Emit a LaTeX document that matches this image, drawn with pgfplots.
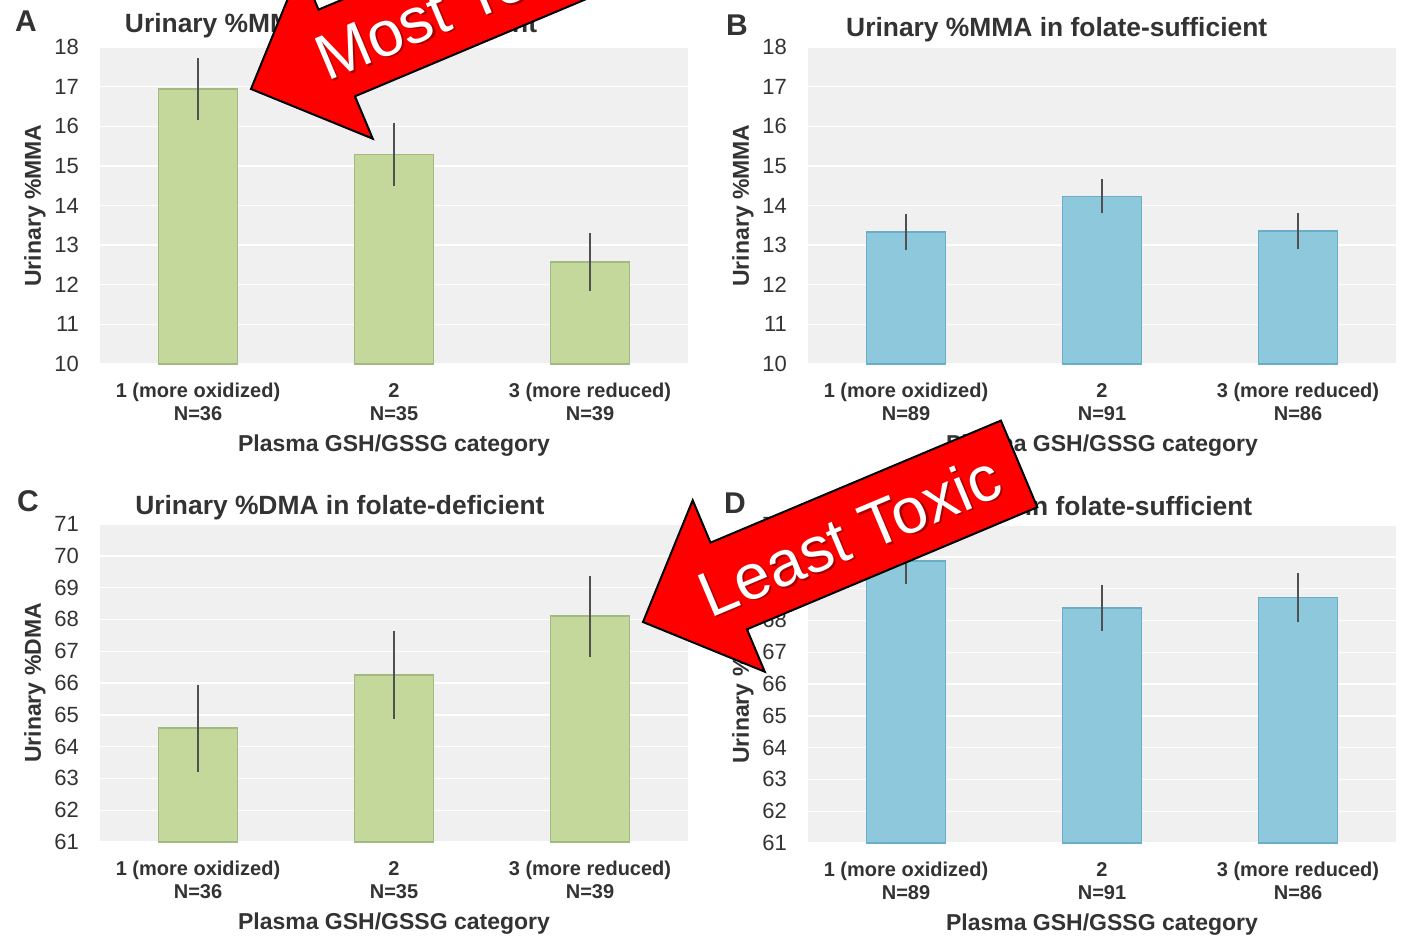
\documentclass[border=0pt]{standalone}
\usepackage{pgfplots}
\pgfplotsset{compat=1.18}
\usepackage{fontspec}
\setmainfont{Liberation Sans}
\definecolor{bggray}{HTML}{F0F0F0}
\definecolor{gfill}{HTML}{C5D89B}
\definecolor{gedge}{HTML}{A3B982}
\definecolor{bfill}{HTML}{8DC8DC}
\definecolor{bedge}{HTML}{6AAEC6}
\definecolor{errc}{HTML}{505050}
\definecolor{txt}{HTML}{333333}
\definecolor{arrred}{HTML}{FF0000}

\pgfplotsset{
  panel/.style={
    scale only axis, width=294pt, height=158.5pt,
    xmin=0.5, xmax=3.5, xtick={1,2,3},
    axis background/.style={fill=bggray},
    axis line style={draw=none},
    major tick length=0pt,
    ymajorgrids, grid style={white, line width=0.7pt},
    /pgf/number format/assume math mode=true,
    yticklabel style={font=\fontsize{11}{13}\selectfont, text=txt, xshift=-7pt},
    xticklabel style={font=\bfseries\fontsize{10}{11.5}\selectfont, text=txt, align=center, anchor=north, yshift=-6pt},
    xticklabels={{1 (more oxidized)\\N=36},{2\\N=35},{3 (more reduced)\\N=39}},
    xlabel={Plasma GSH/GSSG category},
    xlabel style={at={(axis description cs:0.5,0)}, anchor=center, yshift=-41pt, font=\bfseries\fontsize{11.5}{13}\selectfont, text=txt},
    ylabel style={at={(axis description cs:0,0.5)}, anchor=center, yshift=32.5pt, font=\bfseries\fontsize{11.5}{13}\selectfont, text=txt},
    title style={font=\bfseries\fontsize{13.2}{15}\selectfont, text=txt, anchor=center},
    clip=true,
  },
  gbar/.style={ybar, bar width=39.5pt, fill=gfill, draw=gedge, line width=0.8pt, mark=none,
    error bars/.cd, y dir=both, y explicit, error mark=none,
    error bar style={color=errc, line width=0.8pt}},
  bbar/.style={ybar, bar width=39.5pt, fill=bfill, draw=bedge, line width=0.8pt, mark=none,
    error bars/.cd, y dir=both, y explicit, error mark=none,
    error bar style={color=errc, line width=0.8pt}},
}

\begin{document}
\begin{tikzpicture}
\useasboundingbox (0,0) rectangle (704.5pt,-468.5pt);
\clip (0,0) rectangle (704.5pt,-468.5pt);

% Panel A
\begin{axis}[panel, at={(50pt,-182pt)}, anchor=south west,
  ymin=10, ymax=18, ytick={10,...,18},
  ylabel={Urinary \%MMA},
  title={Urinary \%MMA in folate-deficient},
  title style={at={(axis description cs:0.393,1)}, yshift=4.5pt}]
\addplot[gbar] coordinates {(1,16.94) +- (0,0.78) (2,15.29) +- (0,0.80) (3,12.58) +- (0,0.73)};
\end{axis}
\node[font=\bfseries\fontsize{15}{17}\selectfont, text=txt] at (13pt,-10.5pt) {A};

% Panel B
\begin{axis}[panel, at={(404pt,-182pt)}, anchor=south west,
  ymin=10, ymax=18, ytick={10,...,18},
  xticklabels={{1 (more oxidized)\\N=89},{2\\N=91},{3 (more reduced)\\N=86}},
  ylabel={Urinary \%MMA},
  title={Urinary \%MMA in folate-sufficient},
  title style={at={(axis description cs:0.423,1)}, yshift=2.5pt}]
\addplot[bbar] coordinates {(1,13.33) +- (0,0.46) (2,14.23) +- (0,0.43) (3,13.36) +- (0,0.46)};
\end{axis}
\node[font=\bfseries\fontsize{15}{17}\selectfont, text=txt] at (368.5pt,-12.5pt) {B};

% Panel C
\begin{axis}[panel, at={(50pt,-421pt)}, anchor=south west, height=159pt,
  ymin=61, ymax=71, ytick={61,...,71},
  ylabel={Urinary \%DMA},
  title={Urinary \%DMA in folate-deficient},
  title style={at={(axis description cs:0.408,1)}, yshift=2pt}]
\addplot[gbar] coordinates {(1,64.58) +- (0,1.37) (2,66.25) +- (0,1.37) (3,68.10) +- (0,1.27)};
\end{axis}
\node[font=\bfseries\fontsize{15}{17}\selectfont, text=txt] at (14pt,-250.5pt) {C};

% Panel D
\begin{axis}[panel, at={(404pt,-421.5pt)}, anchor=south west, height=159pt,
  ymin=61, ymax=71, ytick={61,...,71},
  xticklabels={{1 (more oxidized)\\N=89},{2\\N=91},{3 (more reduced)\\N=86}},
  ylabel={Urinary \%DMA},
  title={Urinary \%DMA in folate-sufficient},
  title style={at={(axis description cs:0.40,1)}, yshift=2pt}]
\addplot[bbar] coordinates {(1,69.87) +- (0,0.73) (2,68.39) +- (0,0.71) (3,68.72) +- (0,0.77)};
\end{axis}
\node[font=\bfseries\fontsize{15}{17}\selectfont, text=txt] at (367.5pt,-251.5pt) {D};

% Annotation arrows
\begin{scope}[shift={(125.5pt,-44.5pt)}, rotate=22.8, x=0.5pt, y=0.5pt]
  \draw[fill=arrred, draw=black, line width=1pt, line join=miter]
    (0,0) -- (93,93) -- (93,47) -- (420,47) -- (420,-47) -- (93,-47) -- (93,-93) -- cycle;
  \node[rotate=22.8, text=black, opacity=0.35, font=\fontsize{32}{38}\selectfont] at (225.5,-2) {Most Toxic};
  \node[rotate=22.8, text=white, font=\fontsize{32}{38}\selectfont] at (224,0) {Most Toxic};
\end{scope}
\begin{scope}[shift={(321.5pt,-311pt)}, rotate=22.8, x=0.5pt, y=0.5pt]
  \draw[fill=arrred, draw=black, line width=1pt, line join=miter]
    (0,0) -- (93,93) -- (93,47) -- (408,47) -- (408,-47) -- (93,-47) -- (93,-93) -- cycle;
  \node[rotate=22.8, text=black, opacity=0.35, font=\fontsize{32}{38}\selectfont] at (225.5,-2) {Least Toxic};
  \node[rotate=22.8, text=white, font=\fontsize{32}{38}\selectfont] at (224,0) {Least Toxic};
\end{scope}
\end{tikzpicture}
\end{document}
